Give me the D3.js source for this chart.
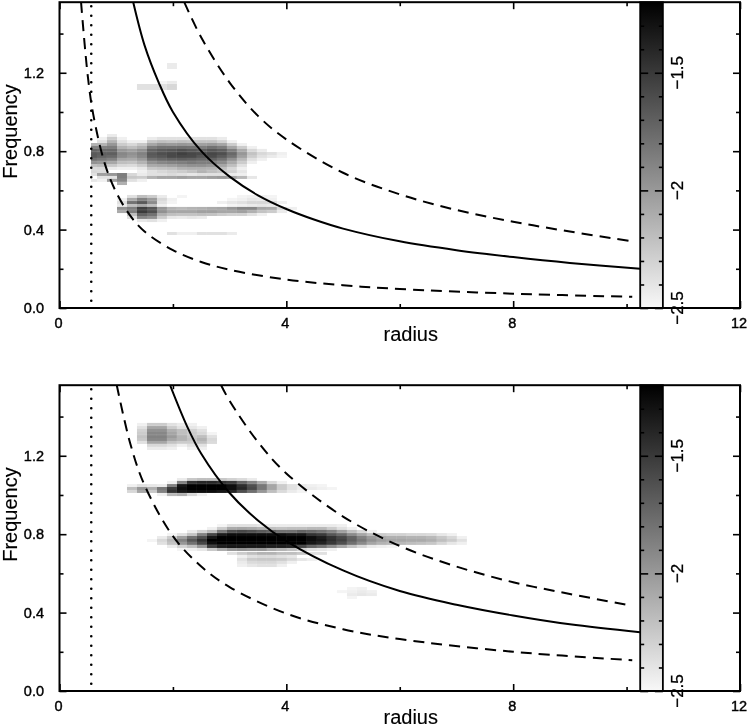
<!DOCTYPE html>
<html>
<head>
<meta charset="utf-8">
<script src="https://cdn.jsdelivr.net/npm/d3@7"></script>
<style>
  html, body { margin: 0; padding: 0; background: #fff; }
  svg { filter: blur(0.35px); }
  text { font-family: "Liberation Sans", sans-serif; fill: #000; }
  .tick_label { font-size: 14.5px; stroke: #000; stroke-width: 0.4px; }
  .bar_label { font-size: 17px; stroke: #000; stroke-width: 0.3px; }
  .axis_title { font-size: 20px; stroke: #000; stroke-width: 0.15px; }
  .domain { display: none; }
  .tick line { stroke: #000; stroke-width: 1.6px; }
  .tick text { display: none; }
</style>
</head>
<body>
<div id="chart"></div>
<script>

/* two radius / frequency panels with log amplitude maps */

var _ = null;

// axis ticks

var xMajor = [0, 4, 8, 12],
    xMinor = [2, 6, 10],
    yMajor = [0, 0.4, 0.8, 1.2],
    yMinor = [0.2, 0.6, 1.0, 1.4],
    barMajor = [-2.5, -2, -1.5],
    barMinor = [-2.4, -2.3, -2.2, -2.1, -1.9, -1.8, -1.7, -1.6, -1.4, -1.3];

// radius bin edges shared by both maps

var radiusEdges = [0.555, 0.661, 0.837, 1.014, 1.190, 1.366, 1.543, 1.719, 1.895, 2.071, 2.248,
  2.424, 2.600, 2.777, 2.953, 3.129, 3.306, 3.482, 3.658, 3.834, 4.011, 4.187, 4.363, 4.540,
  4.716, 4.892, 5.069, 5.245, 5.421, 5.597, 5.774, 5.950, 6.126, 6.303, 6.479, 6.655, 6.832,
  7.008, 7.184];

// top map: row frequency, first radius bin of the row, log amplitudes

var freqTop = [1.242, 1.227, 1.151, 1.135, 1.120, 0.880, 0.865, 0.849, 0.834, 0.819, 0.804, 0.788,
  0.773, 0.758, 0.742, 0.727, 0.712, 0.696, 0.681, 0.666, 0.651, 0.635, 0.569, 0.554, 0.538,
  0.523, 0.508, 0.492, 0.477, 0.462, 0.446, 0.380];

var startTop = [8, 8, 7, 5, 5, 2, 1, 1, 0, 0, 0, 0, 0, 0, 0, 0, 0, 0, 0, 1, 0, 3, 4, 3, 3, 3, 3, 3, 4, 4, 5, 8];

var ampTop = [
  [-2.43],
  [-2.43],
  [-2.48, -2.43],
  [-2.38, -2.38, -2.38, -2.33],
  [-2.38, -2.38, -2.38, -2.33],
  [-2.43],
  [-2.46, -2.27, -2.46, _, _, -2.43, -2.38, -2.38, -2.38, -2.38, -2.38, -2.38, -2.43],
  [-2.38, -2.14, -2.38, -2.46, -2.46, -2.25, -2.20, -2.22, -2.20, -2.22, -2.22, -2.22, -2.30, -2.46],
  [-2.14, -2.14, -1.99, -2.27, -2.33, -2.25, -2.07, -1.99, -2.01, -1.99, -2.01, -2.04, -2.01, -2.07, -2.27, -2.46],
  [-1.88, -1.88, -1.86, -2.14, -2.20, -2.12, -1.86, -1.80, -1.80, -1.78, -1.80, -1.86, -1.80, -1.86, -2.07, -2.27, -2.46],
  [-1.72, -1.75, -1.75, -1.99, -2.04, -1.96, -1.72, -1.67, -1.65, -1.62, -1.65, -1.70, -1.65, -1.70, -1.86, -2.09, -2.33, -2.43],
  [-1.67, -1.70, -1.70, -1.91, -1.96, -1.88, -1.67, -1.62, -1.58, -1.54, -1.57, -1.60, -1.57, -1.62, -1.75, -1.99, -2.22, -2.33, -2.38, -2.46],
  [-1.67, -1.72, -1.75, -1.93, -1.99, -1.91, -1.68, -1.65, -1.59, -1.57, -1.59, -1.65, -1.60, -1.67, -1.80, -2.04, -2.27, -2.38, -2.43, -2.48],
  [-1.78, -1.83, -1.88, -2.07, -2.09, -2.01, -1.80, -1.75, -1.72, -1.70, -1.72, -1.75, -1.72, -1.80, -1.96, -2.17, -2.38, -2.46],
  [-1.96, -1.99, -2.07, -2.20, -2.22, -2.14, -1.96, -1.91, -1.88, -1.86, -1.83, -1.86, -1.86, -1.93, -2.09, -2.27, -2.46],
  [-2.20, -2.17, -2.25, -2.33, -2.35, -2.27, -2.09, -2.07, -2.04, -1.99, -1.96, -1.96, -1.99, -2.07, -2.20, -2.38],
  [-2.35, -2.33, -2.43, -2.46, -2.46, -2.41, -2.25, -2.22, -2.20, -2.14, -2.12, -2.12, -2.14, -2.20, -2.33, -2.46],
  [-2.33, -2.35, _, _, _, -2.46, -2.38, -2.33, -2.30, -2.27, -2.22, -2.14, -2.20, -2.25, -2.30, -2.41],
  [-2.38, -2.04, -1.99, -1.86, -2.33, -2.43, -2.38, -2.38, -2.35, -2.38, -2.41, -2.38, -2.38, -2.38, -2.43, -2.46],
  [-2.38, -2.38, -1.86, -2.25, -2.27, -2.14, -2.07, -2.07, -2.04, -2.07, -2.07, -2.04, -2.01, -2.07, -2.17, -2.41],
  [-2.41, -2.46, -2.04, -1.91, -2.38, -2.46],
  [-2.12],
  [-2.38, -2.20, -2.27, -2.43, _, -2.48, _, _, _, _, _, -2.48, -2.46, -2.46, -2.48],
  [-2.46, -2.09, -1.88, -2.01, -2.33, -2.46, _, _, _, _, _, -2.48, -2.46, -2.41, -2.43, -2.46],
  [-2.38, -1.80, -1.67, -1.93, -2.38, -2.48, _, _, _, _, -2.46, -2.41, -2.38, -2.33, -2.33, -2.35, -2.46],
  [-2.43, -2.20, -2.09, -2.20, -2.46, _, _, _, _, _, _, -2.48, -2.46, -2.43, -2.41, -2.43],
  [-1.96, -1.86, -1.54, -1.65, -1.99, -2.14, -2.17, -2.14, -2.12, -2.09, -2.07, -1.99, -1.91, -1.91, -2.07, -2.09, -2.33, -2.46],
  [-2.09, -1.86, -1.51, -1.62, -1.96, -2.07, -2.07, -2.07, -2.04, -2.04, -2.07, -2.07, -2.04, -2.12, -2.22, -2.27, -2.43],
  [-2.20, -1.72, -1.80, -2.12, -2.20, -2.22, -2.22, -2.20, -2.22, -2.27, -2.30, -2.30, -2.38, -2.46],
  [-2.38, -1.91, -1.96, -2.27, -2.41, -2.43, -2.41, -2.43],
  [-2.41, -2.38, -2.46],
  [-2.38, -2.46, -2.46, -2.38, -2.38, -2.38, -2.43]
];

// bottom map

var freqBottom = [1.360, 1.344, 1.329, 1.314, 1.298, 1.283, 1.268, 1.253, 1.237, 1.079, 1.064, 1.048,
  1.033, 1.018, 1.002, 0.844, 0.829, 0.814, 0.798, 0.783, 0.768, 0.753, 0.737, 0.722, 0.702,
  0.686, 0.671, 0.656, 0.640, 0.523, 0.507, 0.492, 0.477];

var startBottom = [5, 5, 5, 5, 5, 5, 5, 6, 6, 9, 8, 4, 4, 4, 7, 13, 12, 10, 8, 7, 6, 7, 8, 9, 14, 15, 15, 15, 15, 26, 25, 26, 26];

var ampBottom = [
  [-2.46, -2.27, -2.27, -2.38, -2.43, -2.46],
  [-2.38, -2.07, -2.07, -2.27, -2.38, -2.41, -2.46],
  [-2.30, -1.96, -1.96, -2.12, -2.20, -2.30, -2.38],
  [-2.27, -1.91, -1.91, -2.07, -2.20, -2.27, -2.33, -2.48],
  [-2.22, -1.88, -1.88, -2.01, -2.14, -2.25, -2.20, -2.38],
  [-2.25, -1.91, -1.91, -2.07, -2.14, -2.22, -2.14, -2.33],
  [-2.38, -2.07, -2.07, -2.22, -2.27, -2.27, -2.20, -2.35],
  [-2.33, -2.33, -2.38, -2.46, -2.38, -2.38],
  [-2.43, -2.43, -2.46, _, -2.46, -2.46],
  [-2.43, -2.25, -2.20, -2.20, -2.25, -2.30, -2.35, -2.43],
  [-2.46, -1.88, -1.46, -1.41, -1.41, -1.46, -1.51, -1.72, -1.88, -2.09, -2.33, -2.46],
  [-2.46, -2.38, -2.41, -2.43, -1.88, -1.31, -1.2, -1.2, -1.2, -1.22, -1.28, -1.44, -1.62, -1.83, -2.07, -2.27, -2.38, -2.43, -2.46, -2.48],
  [-2.20, -1.99, -2.12, -1.83, -1.51, -1.25, -1.2, -1.2, -1.2, -1.2, -1.28, -1.41, -1.59, -1.83, -2.07, -2.27, -2.38, -2.43, -2.43, -2.46, -2.48],
  [-2.33, -2.07, -2.25, -1.88, -1.46, -1.31, -1.25, -1.25, -1.25, -1.31, -1.41, -1.62, -1.78, -1.99, -2.20, -2.35, -2.43, -2.48],
  [-2.46, -2.17, -2.12, -2.33, -2.46],
  [-2.48, -2.38, -2.38, -2.38, -2.41, -2.43, -2.43, -2.43, -2.43, -2.43, -2.43, -2.43, -2.46],
  [-2.46, -2.27, -2.09, -2.07, -2.09, -2.14, -2.20, -2.22, -2.20, -2.20, -2.17, -2.17, -2.27, -2.38, -2.46],
  [-2.43, -2.30, -2.17, -1.83, -1.62, -1.57, -1.62, -1.67, -1.72, -1.78, -1.78, -1.72, -1.75, -1.80, -1.88, -2.04, -2.20, -2.33, -2.46],
  [-2.48, -2.38, -2.22, -1.88, -1.57, -1.36, -1.28, -1.25, -1.28, -1.28, -1.28, -1.28, -1.31, -1.33, -1.46, -1.51, -1.65, -1.75, -1.93, -2.07, -2.20, -2.27, -2.30, -2.30, -2.33, -2.33, -2.35, -2.41, -2.46],
  [-2.43, -2.27, -2.04, -1.80, -1.62, -1.33, -1.2, -1.2, -1.2, -1.2, -1.2, -1.2, -1.2, -1.2, -1.2, -1.28, -1.36, -1.46, -1.57, -1.72, -1.88, -2.01, -2.09, -2.12, -2.12, -2.14, -2.14, -2.17, -2.25, -2.33, -2.46],
  [-2.48, -2.33, -2.17, -1.88, -1.65, -1.46, -1.22, -1.2, -1.2, -1.2, -1.2, -1.2, -1.2, -1.2, -1.2, -1.2, -1.25, -1.33, -1.44, -1.54, -1.70, -1.83, -1.96, -2.04, -2.07, -2.07, -2.09, -2.09, -2.12, -2.20, -2.27, -2.38],
  [-2.38, -2.22, -1.99, -1.80, -1.57, -1.28, -1.2, -1.2, -1.2, -1.2, -1.2, -1.2, -1.2, -1.2, -1.2, -1.31, -1.38, -1.49, -1.62, -1.78, -1.93, -2.07, -2.14, -2.17, -2.17, -2.20, -2.22, -2.25, -2.33, -2.41, -2.46],
  [-2.43, -2.30, -2.20, -1.99, -1.51, -1.36, -1.31, -1.31, -1.33, -1.33, -1.36, -1.36, -1.38, -1.57, -1.72, -1.80, -1.93, -2.07, -2.22, -2.33, -2.43, -2.46, -2.48],
  [-2.48, -2.46, -2.41, -2.25, -2.09, -1.99, -1.96, -1.99, -1.99, -2.09, -2.14, -2.20, -2.30, -2.38, -2.41, -2.46],
  [-2.38, -2.27, -2.20, -2.14, -2.14, -2.20, -2.20, -2.25, -2.38, -2.38],
  [-2.46, -2.38, -2.35, -2.35, -2.38, -2.41],
  [-2.38, -2.27, -2.25, -2.25, -2.27, -2.33, -2.41, -2.46],
  [-2.43, -2.35, -2.33, -2.33, -2.38, -2.46],
  [-2.46, -2.41, -2.38, -2.38, -2.46],
  [-2.48, -2.46],
  [-2.48, -2.46, -2.43, -2.46],
  [-2.43, -2.41, -2.43],
  [-2.48]
];

// curves: radius, frequency

var solidRadiusTop = [1.3, 1.5, 1.75, 2, 2.5, 3, 3.5, 4, 4.5, 5, 6, 7, 8, 9, 10.24],
    solidFreqTop = [1.56, 1.34, 1.15, 1.0, 0.80, 0.67, 0.575, 0.505, 0.45, 0.405, 0.34, 0.295, 0.26, 0.23, 0.2],
    upperRadiusTop = [2.2, 2.5, 3, 3.5, 4, 5, 6, 7, 8, 9, 10.1],
    upperFreqTop = [1.56, 1.38, 1.15, 0.98, 0.86, 0.69, 0.58, 0.50, 0.44, 0.39, 0.34],
    lowerRadiusTop = [0.38, 0.5, 0.6, 0.8, 1, 1.25, 1.5, 2, 2.5, 3, 4, 5, 6, 8, 10.1],
    lowerFreqTop = [1.56, 1.18, 0.98, 0.735, 0.59, 0.47, 0.39, 0.295, 0.235, 0.195, 0.145, 0.116, 0.097, 0.073, 0.057];

var solidRadiusBottom = [1.95, 2.25, 2.5, 3, 3.5, 4, 5, 6, 7, 8, 9, 10.24],
    solidFreqBottom = [1.56, 1.35, 1.21, 1.01, 0.87, 0.765, 0.615, 0.51, 0.44, 0.385, 0.34, 0.30],
    upperRadiusBottom = [2.85, 3, 3.5, 4, 5, 6, 7, 8, 9, 10.1],
    upperFreqBottom = [1.56, 1.48, 1.27, 1.11, 0.89, 0.74, 0.635, 0.555, 0.495, 0.435],
    lowerRadiusBottom = [1.01, 1.25, 1.5, 2, 2.5, 3, 4, 5, 6, 8, 10.1],
    lowerFreqBottom = [1.56, 1.26, 1.05, 0.79, 0.635, 0.53, 0.395, 0.315, 0.265, 0.2, 0.157];

var dottedRadius = 0.56;

// sizes

var width = 747,
    height = 725,
    marginLeft = 59.5,
    plotRight = 740,
    plotHeight = 305.8,
    barLeft = 10.24,
    barRight = 10.64,
    rowStep = 0.0153,
    topOffset = 2.2,
    bottomOffset = 385.2;

// scales

var xScale = d3.scaleLinear().domain([0, 12]).range([marginLeft, plotRight]);
var yScale = d3.scaleLinear().domain([0, 1.56]).range([plotHeight, 0]);
var barScale = d3.scaleLinear().domain([-2.5, -1.2]).range([plotHeight, 0]);
var grey = d3.scaleLinear().domain([-2.5, -1.2]).range(["#f8f8f8", "#000000"]).clamp(true);

var line = d3.line()
  .x(function(d) { return xScale(d[0]); })
  .y(function(d) { return yScale(d[1]); })
  .curve(d3.curveCatmullRom.alpha(0.5));

var svg = d3.select("#chart")
  .append("svg")
    .attr("width", width)
    .attr("height", height)
    .style("display", "block");

var defs = svg.append("defs");

defs.append("filter")
    .attr("id", "soften")
    .attr("x", "-5%").attr("y", "-20%").attr("width", "110%").attr("height", "140%")
  .append("feGaussianBlur")
    .attr("stdDeviation", 0.5);

defs.append("clipPath")
    .attr("id", "plot_clip")
  .append("rect")
    .attr("x", marginLeft)
    .attr("y", 0)
    .attr("width", xScale(barLeft) - marginLeft)
    .attr("height", plotHeight);

// colour bar gradient, bottom to top

var gradient = defs.append("linearGradient")
    .attr("id", "bar_gradient")
    .attr("x1", 0).attr("x2", 0)
    .attr("y1", 1).attr("y2", 0);

gradient.append("stop").attr("offset", "0%").attr("stop-color", grey(-2.5));
gradient.append("stop").attr("offset", "100%").attr("stop-color", grey(-1.2));

function zipCurve(radius, freq) {
  return radius.map(function(r, i) { return [r, freq[i]]; });
}

// one panel

function drawPanel(offset, freq, start, amp, solid, upper, lower) {

  var g = svg.append("g")
    .attr("transform", "translate(0," + offset + ")");

  // map cells

  var cells = [];
  amp.forEach(function(row, i) {
    row.forEach(function(v, j) {
      if (v !== null) cells.push({ f: freq[i], col: start[i] + j, v: v });
    });
  });

  g.append("g")
      .attr("filter", "url(#soften)")
    .selectAll("rect")
    .data(cells)
    .enter()
    .append("rect")
      .attr("x", function(d) { return xScale(radiusEdges[d.col]); })
      .attr("y", function(d) { return yScale(d.f + rowStep / 2); })
      .attr("width", function(d) { return xScale(radiusEdges[d.col + 1]) - xScale(radiusEdges[d.col]); })
      .attr("height", yScale(0) - yScale(rowStep))
      .attr("fill", function(d) { return grey(d.v); });

  // curves

  var curves = g.append("g").attr("clip-path", "url(#plot_clip)");

  curves.append("path")
      .attr("d", line(solid))
      .attr("fill", "none")
      .attr("stroke", "#000")
      .attr("stroke-width", 2);

  [upper, lower].forEach(function(c) {
    curves.append("path")
      .attr("d", line(c))
      .attr("fill", "none")
      .attr("stroke", "#000")
      .attr("stroke-width", 2)
      .attr("stroke-dasharray", "11,7");
  });

  g.append("line")
      .attr("x1", xScale(dottedRadius))
      .attr("x2", xScale(dottedRadius))
      .attr("y1", 4)
      .attr("y2", plotHeight)
      .attr("stroke", "#000")
      .attr("stroke-width", 2.6)
      .attr("stroke-linecap", "round")
      .attr("stroke-dasharray", "0,9.5");

  // colour bar

  var barX = xScale(barLeft),
      barW = xScale(barRight) - barX;

  g.append("rect")
      .attr("x", barX)
      .attr("y", 0)
      .attr("width", barW)
      .attr("height", plotHeight)
      .attr("fill", "url(#bar_gradient)");

  g.append("g")
      .attr("transform", "translate(" + barX + ",0)")
      .call(d3.axisRight(barScale).tickValues(barMinor).tickSize(4));
  g.append("g")
      .attr("transform", "translate(" + barX + ",0)")
      .call(d3.axisRight(barScale).tickValues(barMajor).tickSize(8));
  g.append("g")
      .attr("transform", "translate(" + (barX + barW) + ",0)")
      .call(d3.axisLeft(barScale).tickValues(barMinor).tickSize(4));
  g.append("g")
      .attr("transform", "translate(" + (barX + barW) + ",0)")
      .call(d3.axisLeft(barScale).tickValues(barMajor).tickSize(8));

  g.append("rect")
      .attr("x", barX)
      .attr("y", 0)
      .attr("width", barW)
      .attr("height", plotHeight)
      .attr("fill", "none")
      .attr("stroke", "#000")
      .attr("stroke-width", 1.8);

  barMajor.forEach(function(v) {
    g.append("text")
        .attr("class", "bar_label")
        .attr("transform", "translate(" + (barX + barW + 20) + "," + barScale(v) + ") rotate(-90)")
        .attr("text-anchor", "middle")
        .text("\u2212" + Math.abs(v));
  });

  // axes, ticks point inwards on all four sides

  g.append("g")
      .attr("transform", "translate(0," + plotHeight + ")")
      .call(d3.axisBottom(xScale).tickValues(xMajor).tickSize(-7));
  g.append("g")
      .attr("transform", "translate(0," + plotHeight + ")")
      .call(d3.axisBottom(xScale).tickValues(xMinor).tickSize(-4));
  g.append("g")
      .call(d3.axisTop(xScale).tickValues(xMajor).tickSize(-7));
  g.append("g")
      .call(d3.axisTop(xScale).tickValues(xMinor).tickSize(-4));
  g.append("g")
      .attr("transform", "translate(" + marginLeft + ",0)")
      .call(d3.axisLeft(yScale).tickValues(yMajor).tickSize(-7));
  g.append("g")
      .attr("transform", "translate(" + marginLeft + ",0)")
      .call(d3.axisLeft(yScale).tickValues(yMinor).tickSize(-4));
  g.append("g")
      .attr("transform", "translate(" + plotRight + ",0)")
      .call(d3.axisRight(yScale).tickValues(yMajor).tickSize(-7));
  g.append("g")
      .attr("transform", "translate(" + plotRight + ",0)")
      .call(d3.axisRight(yScale).tickValues(yMinor).tickSize(-4));

  g.append("rect")
      .attr("x", marginLeft)
      .attr("y", 0)
      .attr("width", plotRight - marginLeft)
      .attr("height", plotHeight)
      .attr("fill", "none")
      .attr("stroke", "#000")
      .attr("stroke-width", 2);

  // tick labels and titles

  xMajor.forEach(function(v) {
    g.append("text")
        .attr("class", "tick_label")
        .attr("x", xScale(v) - 1)
        .attr("y", plotHeight + 20)
        .attr("text-anchor", "middle")
        .text(v);
  });

  yMajor.forEach(function(v) {
    g.append("text")
        .attr("class", "tick_label")
        .attr("x", 44)
        .attr("y", yScale(v) + 5)
        .attr("text-anchor", "end")
        .text(d3.format(".1f")(v));
  });

  g.append("text")
      .attr("class", "axis_title")
      .attr("x", xScale(6) + 11)
      .attr("y", plotHeight + 33)
      .attr("text-anchor", "middle")
      .text("radius");

  g.append("text")
      .attr("class", "axis_title")
      .attr("transform", "translate(17," + yScale(0.9) + ") rotate(-90)")
      .attr("text-anchor", "middle")
      .text("Frequency");
}

drawPanel(topOffset, freqTop, startTop, ampTop,
  zipCurve(solidRadiusTop, solidFreqTop),
  zipCurve(upperRadiusTop, upperFreqTop),
  zipCurve(lowerRadiusTop, lowerFreqTop));

drawPanel(bottomOffset, freqBottom, startBottom, ampBottom,
  zipCurve(solidRadiusBottom, solidFreqBottom),
  zipCurve(upperRadiusBottom, upperFreqBottom),
  zipCurve(lowerRadiusBottom, lowerFreqBottom));

</script>
</body>
</html>
